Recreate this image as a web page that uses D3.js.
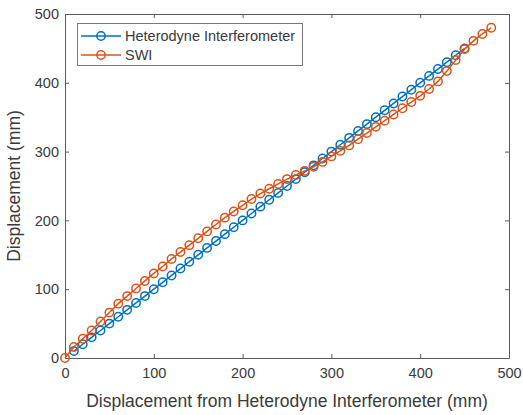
<!DOCTYPE html>
<html>
<head>
<meta charset="utf-8">
<script src="https://cdn.jsdelivr.net/npm/d3@7"></script>
<style>
  body { margin: 0; background: #fff; }
  svg { display: block; }
  text { font-family: "Liberation Sans", Arial, sans-serif; fill: #3a3a3a; }
</style>
</head>
<body>
<svg id="chart"></svg>
<script>
// Heterodyne reference (x and measured displacement)
var hetX = [10, 20, 30, 40, 50, 60, 70, 80, 90, 100, 110, 120, 130, 140, 150, 160, 170, 180, 190, 200,
  210, 220, 230, 240, 250, 260, 270, 280, 290, 300, 310, 320, 330, 340, 350, 360, 370, 380, 390, 400,
  410, 420, 430, 440, 450];
var hetY = [10, 20, 30, 40, 50, 60, 70, 80, 90, 100, 110, 120, 130, 140, 150, 160, 170, 180, 190, 200,
  210, 220, 230, 240, 250, 260, 270, 280, 290, 300, 310, 320, 330, 340, 350, 360, 370, 380, 390, 400,
  410, 420, 430, 440, 450];

// SWI readings
var swiX = [0, 10, 20, 30, 40, 50, 60, 70, 80, 90, 100, 110, 120, 130, 140, 150, 160, 170, 180, 190, 200,
  210, 220, 230, 240, 250, 260, 270, 280, 290, 300, 310, 320, 330, 340, 350, 360, 370, 380, 390, 400,
  410, 420, 430, 440, 450, 460, 470, 480];
var swiY = [0, 16, 28, 40, 53, 66, 79, 90, 101, 112, 123, 133, 144, 154, 164, 174, 184, 194, 204, 213, 222,
  231, 239, 246, 253, 260, 266, 272, 278, 285, 293, 301, 309, 318, 327, 336, 345, 354, 363, 372, 381,
  391, 402, 417, 433, 449, 461, 471, 480];

var xTicks = [0, 100, 200, 300, 400, 500];
var yTicks = [0, 100, 200, 300, 400, 500];

var seriesNames = ["Heterodyne Interferometer", "SWI"];
var colors = ["#0072BD", "#D95319"];

var width = 523, height = 415;
var plotLeft = 65, plotRight = 509, plotTop = 14, plotBottom = 358;

var svg = d3.select("#chart").attr("width", width).attr("height", height);

var x = d3.scaleLinear().domain([0, 500]).range([plotLeft, plotRight]);
var y = d3.scaleLinear().domain([0, 500]).range([plotBottom, plotTop]);

var axisColor = "#5a5a5a";
var tickLen = 4;

// axes (MATLAB style: ticks inward, box on)
var gx = svg.append("g").attr("transform", "translate(0," + plotBottom + ")")
  .call(d3.axisBottom(x).tickValues(xTicks).tickSizeInner(-tickLen).tickSizeOuter(0).tickPadding(10));
var gxTop = svg.append("g").attr("transform", "translate(0," + plotTop + ")")
  .call(d3.axisTop(x).tickValues(xTicks).tickSizeInner(-tickLen).tickSizeOuter(0).tickFormat(""));
var gy = svg.append("g").attr("transform", "translate(" + plotLeft + ",0)")
  .call(d3.axisLeft(y).tickValues(yTicks).tickSizeInner(-tickLen).tickSizeOuter(0).tickPadding(6));
var gyRight = svg.append("g").attr("transform", "translate(" + plotRight + ",0)")
  .call(d3.axisRight(y).tickValues(yTicks).tickSizeInner(-tickLen).tickSizeOuter(0).tickFormat(""));

[gx, gxTop, gy, gyRight].forEach(function(g) {
  g.select(".domain").attr("stroke", axisColor);
  g.selectAll(".tick line").attr("stroke", axisColor);
  g.selectAll(".tick text").attr("fill", "#3a3a3a").style("font-size", "14.5px")
    .style("font-family", "'Liberation Sans', Arial, sans-serif");
});

// axis labels
svg.append("text")
  .attr("x", (plotLeft + plotRight) / 2)
  .attr("y", 407)
  .attr("text-anchor", "middle")
  .style("font-size", "17.5px")
  .text("Displacement from Heterodyne Interferometer (mm)");

svg.append("text")
  .attr("transform", "translate(20," + ((plotTop + plotBottom) / 2) + ") rotate(-90)")
  .attr("text-anchor", "middle")
  .style("font-size", "17.5px")
  .text("Displacement (mm)");

// series
var series = [
  hetX.map(function(d, i) { return [d, hetY[i]]; }),
  swiX.map(function(d, i) { return [d, swiY[i]]; })
];

var line = d3.line().x(function(d) { return x(d[0]); }).y(function(d) { return y(d[1]); });

series.forEach(function(s, k) {
  var g = svg.append("g");
  g.append("path")
    .attr("d", line(s))
    .attr("fill", "none")
    .attr("stroke", colors[k])
    .attr("stroke-width", 1.5);
  g.selectAll("circle")
    .data(s)
  .enter().append("circle")
    .attr("cx", function(d) { return x(d[0]); })
    .attr("cy", function(d) { return y(d[1]); })
    .attr("r", 4.2)
    .attr("fill", "none")
    .attr("stroke", colors[k])
    .attr("stroke-width", 1.5);
});

// legend
var legend = svg.append("g");
legend.append("rect")
  .attr("x", 77.5).attr("y", 23.5)
  .attr("width", 225).attr("height", 42)
  .attr("fill", "#fff")
  .attr("stroke", "#777");

seriesNames.forEach(function(name, k) {
  var ly = 36 + k * 19;
  legend.append("line")
    .attr("x1", 81).attr("x2", 121)
    .attr("y1", ly).attr("y2", ly)
    .attr("stroke", colors[k]).attr("stroke-width", 1.5);
  legend.append("circle")
    .attr("cx", 101).attr("cy", ly).attr("r", 4.2)
    .attr("fill", "none")
    .attr("stroke", colors[k]).attr("stroke-width", 1.5);
  legend.append("text")
    .attr("x", 125).attr("y", ly + 5)
    .style("font-size", "14.5px")
    .text(name);
});
</script>
</body>
</html>
